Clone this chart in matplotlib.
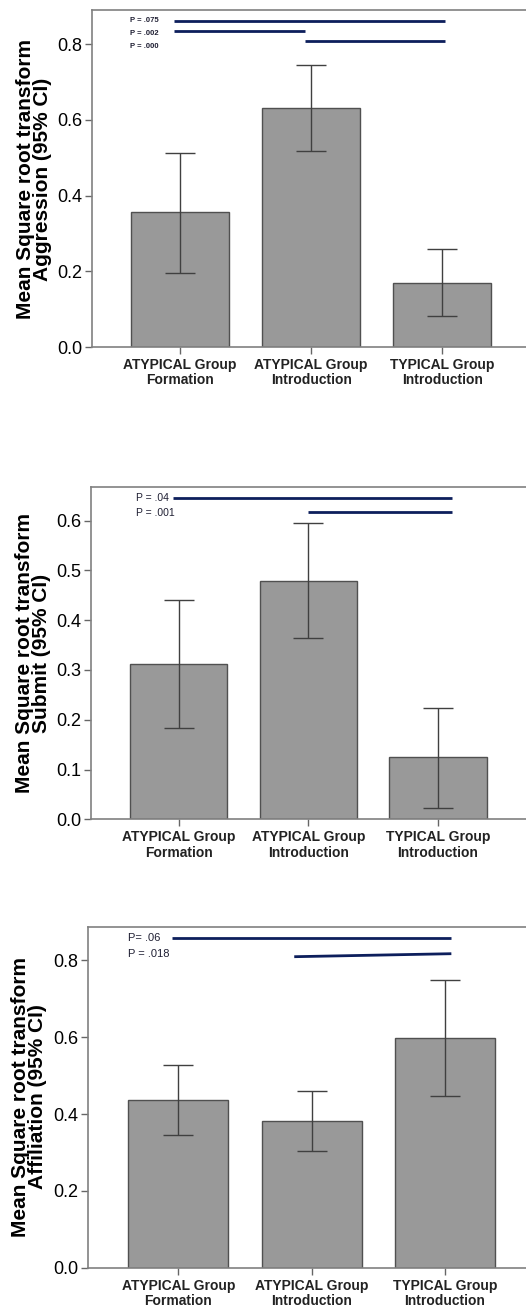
import matplotlib
matplotlib.use("Agg")
import matplotlib.pyplot as plt
import numpy as np

plt.rcParams["font.family"] = ["Liberation Sans", "DejaVu Sans"]

GROUPS = ["ATYPICAL Group\nFormation", "ATYPICAL Group\nIntroduction", "TYPICAL Group\nIntroduction"]

# panel 1: aggression
AGG_MEAN = [0.356, 0.632, 0.170]
AGG_LO = [0.195, 0.519, 0.081]
AGG_HI = [0.513, 0.745, 0.260]
AGG_SIG = [("P = .075", -0.05, 2.02, 0.862, 0.862, 0.862),
           ("P = .002", -0.05, 0.95, 0.834, 0.834, 0.829),
           ("P = .000", 0.95, 2.02, 0.807, 0.807, 0.795)]

# panel 2: submit
SUB_MEAN = [0.312, 0.479, 0.125]
SUB_LO = [0.183, 0.364, 0.023]
SUB_HI = [0.441, 0.595, 0.223]
SUB_SIG = [("P = .04", -0.044, 2.108, 0.645, 0.645, 0.645),
           ("P = .001", 0.995, 2.108, 0.617, 0.617, 0.616)]

# panel 3: affiliation
AFF_MEAN = [0.4365, 0.382, 0.5987]
AFF_LO = [0.3446, 0.3046, 0.448]
AFF_HI = [0.5276, 0.459, 0.749]
AFF_SIG = [("P= .06", -0.052, 2.048, 0.859, 0.859, 0.859),
           ("P = .018", 0.869, 2.048, 0.8095, 0.8173, 0.8165)]

PANELS = [
    dict(name="Aggression", mean=AGG_MEAN, lo=AGG_LO, hi=AGG_HI, sig=AGG_SIG,
         rect=[0.175, 0.7345, 0.83, 0.2578], xlim=(-0.672, 2.66), ylim=(0, 0.89),
         ticks=np.arange(0, 0.81, 0.2), sig_fs=5.5, sig_bold=True, sig_x=-0.38,
         label_xy=(34, 179)),
    dict(name="Submit", mean=SUB_MEAN, lo=SUB_LO, hi=SUB_HI, sig=SUB_SIG,
         rect=[0.173, 0.3731, 0.83, 0.2545], xlim=(-0.675, 2.69), ylim=(0, 0.668),
         ticks=np.arange(0, 0.61, 0.1), sig_fs=7.5, sig_bold=False, sig_x=-0.33,
         label_xy=(33, 653)),
    dict(name="Affiliation", mean=AFF_MEAN, lo=AFF_LO, hi=AFF_HI, sig=AFF_SIG,
         rect=[0.168, 0.0301, 0.835, 0.2604], xlim=(-0.676, 2.62), ylim=(0, 0.886),
         ticks=np.arange(0, 0.81, 0.2), sig_fs=8, sig_bold=False, sig_x=-0.38,
         label_xy=(29, 1097)),
]

W, H = 526, 1307
fig = plt.figure(figsize=(W / 100, H / 100), dpi=100)

x = np.arange(len(GROUPS))
for p in PANELS:
    ax = fig.add_axes(p["rect"])
    mean = np.array(p["mean"])
    yerr = [mean - np.array(p["lo"]), np.array(p["hi"]) - mean]
    ax.bar(x, mean, width=0.75, color="#999999", edgecolor="#505050", linewidth=1.0,
           yerr=yerr, capsize=11,
           error_kw=dict(ecolor="#404040", elinewidth=1.0, capthick=1.0))
    for label, x0, x1, y0, y1, ly in p["sig"]:
        ax.plot([x0, x1], [y0, y1], color="#0d1f5c", lw=2.0, solid_capstyle="butt")
        ax.text(p["sig_x"], ly, label, fontsize=p["sig_fs"], va="center", ha="left",
                color="#1f1f33", fontweight="bold" if p["sig_bold"] else "normal")
    ax.set_xlim(*p["xlim"])
    ax.set_ylim(*p["ylim"])
    ax.set_yticks(p["ticks"])
    ax.set_yticklabels([f"{t:.1f}" for t in p["ticks"]], fontsize=13)
    ax.set_xticks(x)
    ax.set_xticklabels(GROUPS, fontsize=10, fontweight="bold", color="#222222",
                       linespacing=1.1)
    ax.tick_params(axis="both", direction="out", length=5, width=1.0, color="#666666")
    ax.tick_params(axis="x", pad=3)
    ax.tick_params(axis="y", pad=2)
    for side in ["left", "top", "bottom"]:
        ax.spines[side].set_color("#808080")
        ax.spines[side].set_linewidth(1.2)
    ax.spines["right"].set_visible(False)
    lx, ly = p["label_xy"]
    fig.text(lx / W, 1 - ly / H, "Mean Square root transform\n" + p["name"] + " (95% CI)",
             rotation=90, ha="center", va="center", multialignment="center",
             fontsize=15, fontweight="bold", linespacing=0.92)

fig.savefig("out.png", dpi=100)
